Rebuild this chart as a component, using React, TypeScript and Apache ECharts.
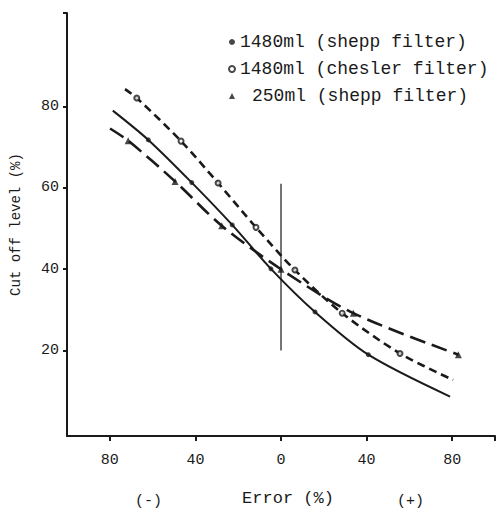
import React, { useEffect, useRef } from "react";
import * as echarts from "echarts";

// Shepp 1480ml: curve (incl. line ends) and marker points
const sheppCurveX = [-78.6, -62, -41.7, -22.8, -4.7, 15.9, 40.8, 79];
const sheppCurveY = [79, 71.8, 61.3, 50.9, 40.1, 29.5, 19, 8.7];
const sheppMarkX = [-62, -41.7, -22.8, -4.7, 15.9, 40.8];
const sheppMarkY = [71.8, 61.3, 50.9, 40.1, 29.5, 19];

// Chesler 1480ml
const cheslerCurveX = [-72.9, -67.4, -46.7, -29.4, -11.7, 6.5, 28.6, 55.6, 80.4];
const cheslerCurveY = [84.3, 82.1, 71.5, 61.2, 50.3, 39.8, 29.2, 19.3, 12.8];
const cheslerMarkX = [-67.4, -46.7, -29.4, -11.7, 6.5, 28.6, 55.6];
const cheslerMarkY = [82.1, 71.5, 61.2, 50.3, 39.8, 29.2, 19.3];

// 250ml shepp
const small250CurveX = [-79.9, -71.4, -49.5, -27.7, 0, 33.8, 82.9];
const small250CurveY = [74.6, 71.6, 61.6, 50.7, 40, 29.2, 19];
const small250MarkX = [-71.4, -49.5, -27.7, 0, 33.8, 82.9];
const small250MarkY = [71.6, 61.6, 50.7, 40, 29.2, 19];

// vertical reference line at zero error
const refLineX = [0, 0];
const refLineY = [20, 61];

const seriesNames = ["1480ml (shepp filter)", "1480ml (chesler filter)", "250ml (shepp filter)"];
const xTickValues = [-80, -40, 0, 40, 80, 100];
const xLabelValues = [-80, -40, 0, 40, 80];
const yTickValues = [20, 40, 60, 80, 103];
const yLabelValues = [20, 40, 60, 80];

const zip = (xs: number[], ys: number[]) => xs.map((x, i) => [x, ys[i]]);

const FONT = "'Liberation Mono', 'DejaVu Sans Mono', monospace";
const INK = "#1a1a1a";

export default function App() {
  const ref = useRef<HTMLDivElement>(null);
  useEffect(() => {
    if (!ref.current) return;
    const chart = echarts.init(ref.current, null, { renderer: "svg" });
    chart.setOption({
      animation: false,
      backgroundColor: "#ffffff",
      grid: { left: 67, right: 2, top: 13, bottom: 68 },
      legend: {
        orient: "vertical",
        left: 223,
        top: 28,
        itemWidth: 6,
        itemHeight: 6,
        itemGap: 9,
        textStyle: { fontFamily: FONT, fontSize: 18, color: INK },
        data: [
          { name: seriesNames[0] },
          { name: seriesNames[1] },
          { name: seriesNames[2], textStyle: { padding: [0, 0, 0, 12] } },
        ],
      },
      xAxis: {
        type: "value",
        min: -100,
        max: 100,
        name: "Error (%)",
        nameLocation: "middle",
        nameGap: 54,
        nameTextStyle: { fontFamily: FONT, fontSize: 17, color: INK, padding: [0, 0, 0, 14] },
        axisLine: { show: true, onZero: false, lineStyle: { color: INK, width: 2 } },
        axisTick: { show: true, inside: false, length: 5, customValues: xTickValues, lineStyle: { color: INK, width: 2 } },
        axisLabel: {
          customValues: xLabelValues,
          formatter: (v: number) => String(Math.abs(v)),
          fontFamily: FONT,
          fontSize: 15,
          color: INK,
          margin: 17,
        },
        splitLine: { show: false },
      },
      yAxis: {
        type: "value",
        min: -1,
        max: 103,
        name: "Cut off level (%)",
        nameLocation: "middle",
        nameGap: 44,
        nameRotate: 90,
        nameTextStyle: { fontFamily: FONT, fontSize: 14, color: INK },
        axisLine: { show: true, onZero: false, lineStyle: { color: INK, width: 2 } },
        axisTick: { show: true, inside: false, length: 4, customValues: yTickValues, lineStyle: { color: INK, width: 2 } },
        axisLabel: {
          customValues: yLabelValues,
          fontFamily: FONT,
          fontSize: 15,
          color: INK,
          margin: 8,
        },
        splitLine: { show: false },
      },
      graphic: [
        { type: "text", left: 135, top: 494, style: { text: "(-)", font: `15px ${FONT}`, fill: INK } },
        { type: "text", left: 397, top: 494, style: { text: "(+)", font: `15px ${FONT}`, fill: INK } },
      ],
      series: [
        {
          name: "shepp curve",
          type: "line",
          data: zip(sheppCurveX, sheppCurveY),
          smooth: 0.3,
          symbol: "none",
          lineStyle: { color: INK, width: 2 },
          silent: true,
        },
        {
          name: "chesler curve",
          type: "line",
          data: zip(cheslerCurveX, cheslerCurveY),
          smooth: 0.3,
          symbol: "none",
          lineStyle: { color: INK, width: 2.6, type: [8, 5] },
          silent: true,
        },
        {
          name: "250 curve",
          type: "line",
          data: zip(small250CurveX, small250CurveY),
          smooth: 0.3,
          symbol: "none",
          lineStyle: { color: INK, width: 2.6, type: [16, 7] },
          silent: true,
        },
        {
          name: "zero line",
          type: "line",
          data: zip(refLineX, refLineY),
          symbol: "none",
          lineStyle: { color: INK, width: 1.2 },
          silent: true,
        },
        {
          name: seriesNames[0],
          type: "scatter",
          data: zip(sheppMarkX, sheppMarkY),
          symbol: "circle",
          symbolSize: 5,
          itemStyle: { color: INK },
          z: 5,
        },
        {
          name: seriesNames[1],
          type: "scatter",
          data: zip(cheslerMarkX, cheslerMarkY),
          symbol: "emptyCircle",
          symbolSize: 5,
          itemStyle: { color: INK, borderColor: INK, borderWidth: 1 },
          z: 5,
        },
        {
          name: seriesNames[2],
          type: "scatter",
          data: zip(small250MarkX, small250MarkY),
          symbol: "triangle",
          symbolSize: 7,
          itemStyle: { color: INK },
          z: 5,
        },
      ],
    });
    return () => chart.dispose();
  }, []);
  return <div ref={ref} style={{ width: 497, height: 512, position: "absolute", left: 0, top: 0 }} />;
}
